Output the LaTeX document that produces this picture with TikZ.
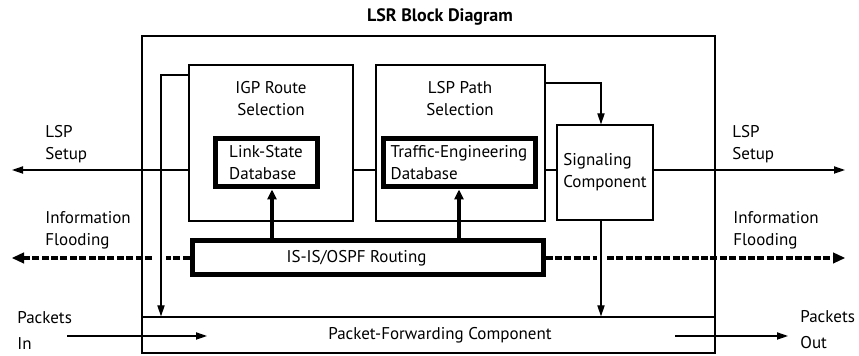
\documentclass[tikz,border=0pt]{standalone}
\usepackage{fontspec}
\setmainfont{PT Sans}
\usetikzlibrary{arrows.meta,calc}
\begin{document}
\begin{tikzpicture}[x=0.5pt,y=-0.5pt,
  font=\fontsize{8.5}{11}\selectfont,
  thinbox/.style={draw,line width=0.6pt,inner sep=0pt},
  thickbox/.style={draw,line width=2.5pt,inner sep=0pt,align=left},
  txt/.style={inner sep=0pt,align=left},
  conn/.style={line width=0.6pt},
  tip/.style={-{Triangle[length=5.5pt,width=3.6pt]}},
  fat/.style={line width=2pt,-{Triangle[length=5pt,width=4.5pt]}},
  flood/.style={line width=2.2pt,dash pattern=on 3.5pt off 1.2pt},
  floodtip/.style={-{Triangle[length=6pt,width=5.5pt]}}]
\useasboundingbox (0,0) rectangle (859,356);
% title
\node[inner sep=0pt,font=\fontsize{9}{11}\selectfont\bfseries] (title) at (440,17) {LSR Block Diagram};
% outer box and packet forwarding
\node[thinbox,minimum width=286.5pt,minimum height=158.5pt] (outer) at (428.5,194.5) {};
\node[thinbox,minimum width=286.5pt,minimum height=18pt] (pf) at (428.5,335) {\hspace*{11.5pt}Packet-Forwarding Component};
% selection boxes
\node[thinbox,minimum width=82pt,minimum height=78pt] (igp) at (271,143) {};
\node[txt,align=center] (igpt) at (271,98.5) {IGP Route\\Selection};
\node[thinbox,minimum width=84.5pt,minimum height=78pt] (lsp) at (460.5,143) {};
\node[txt,align=center] (lspt) at (460,98.5) {LSP Path\\Selection};
\node[thinbox,minimum width=48pt,minimum height=47.5pt,align=left] (sig) at (605,172.5) {Signaling\\Component};
% databases
\node[thickbox,minimum width=51pt,minimum height=24pt] (ls) at (266,163) {Link-State\\Database};
\node[thickbox,minimum width=76pt,minimum height=24pt] (te) at (459,163) {Traffic-Engineering\\Database};
\node[thickbox,minimum width=175.5pt,minimum height=17pt,align=center] (isis) at (367.5,258) {IS-IS/OSPF Routing\hspace{11pt}};
% outside labels
\node[txt,anchor=west] (lspsL) at (45,144) {LSP\\Setup};
\node[txt,anchor=west] (lspsR) at (732,144) {LSP\\Setup};
\node[txt,anchor=west] (ifL) at (45,230) {Information\\Flooding};
\node[txt,anchor=west] (ifR) at (733,230) {Information\\Flooding};
\node[txt,anchor=west] (pin) at (17,330) {Packets\\[2pt]In};
\node[txt,anchor=west] (pout) at (800,330) {Packets\\[2pt]Out};
% coordinates
\coordinate (lspL) at (12,170);
\coordinate (lspR) at (845,170);
\coordinate (t83) at (601,83);
\coordinate (vL) at (161,75);
\coordinate (xa) at (272,0);
\coordinate (xb) at (459,0);
\coordinate (xs) at (601,0);
\coordinate (fL1) at (166,258);
\coordinate (fL2) at (152,258);
\coordinate (fL3) at (12,258);
\coordinate (fR1) at (597,258);
\coordinate (fR2) at (607,258);
\coordinate (fR3) at (845,258);
\coordinate (pi1) at (67,336);
\coordinate (pi2) at (207,336);
\coordinate (po1) at (675,336);
\coordinate (po2) at (788,336);
% LSP setup lines
\draw[conn,tip] (lspL -| igp.west) -- (lspL);
\draw[conn] (lspL -| igp.east) -- (lspL -| lsp.west);
\draw[conn] (lspL -| lsp.east) -- (lspL -| sig.west);
\draw[conn,tip] (lspR -| sig.east) -- (lspR);
% LSP path -> signaling
\draw[conn,tip] (lsp.east |- t83) -- (t83) -- (xs |- sig.north);
% IGP -> packet forwarding
\draw[conn,tip] (igp.west |- vL) -- (vL) -- (vL |- pf.north);
% signaling -> packet forwarding
\draw[conn,tip] (xs |- sig.south) -- (xs |- pf.north);
% routing -> databases
\draw[fat] (xa |- isis.north) -- (xa |- ls.south);
\draw[fat] (xb |- isis.north) -- (xb |- te.south);
% flooding
\draw[flood] (isis.west |- fL1) -- (fL1);
\draw[flood] (fL2) -- ($(fL3)+(10,0)$);
\draw[floodtip,line width=0.6pt] ($(fL3)+(12,0)$) -- (fL3);
\draw[flood] (isis.east |- fR1) -- (fR1);
\draw[flood] (fR2) -- ($(fR3)+(-10,0)$);
\draw[floodtip,line width=0.6pt] ($(fR3)+(-12,0)$) -- (fR3);
% packets
\draw[conn,tip] (pi1) -- (pi2);
\draw[conn,tip] (po1) -- (po2);
\end{tikzpicture}
\end{document}
